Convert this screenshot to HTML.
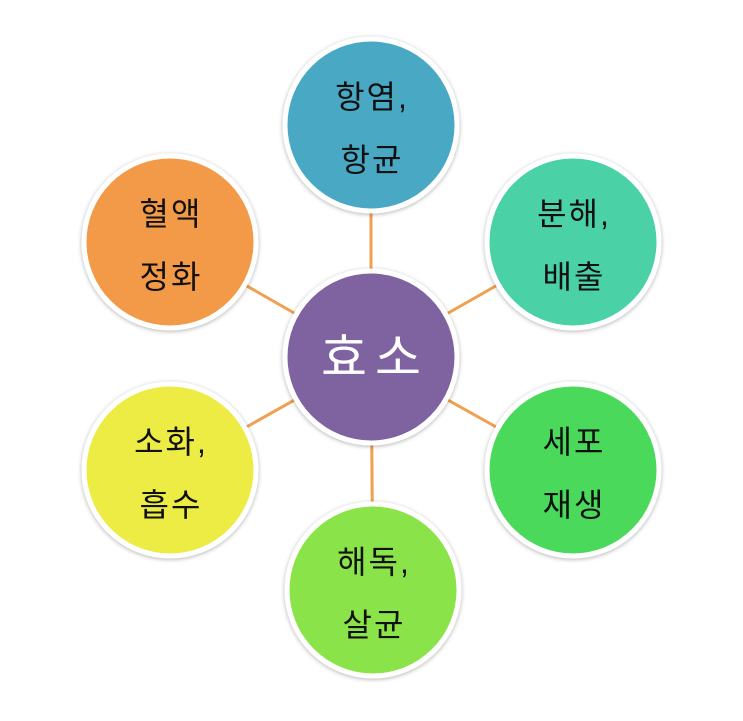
<!DOCTYPE html>
<html><head><meta charset="utf-8"><style>
html,body{margin:0;padding:0;background:#fff;width:743px;height:721px;overflow:hidden}
svg text{font-family:"Liberation Sans","Noto Sans CJK KR",sans-serif}
</style></head><body>
<svg width="743" height="721" viewBox="0 0 743 721" xmlns="http://www.w3.org/2000/svg">
<defs><filter id="s" x="-20%" y="-20%" width="140%" height="140%"><feDropShadow dx="0" dy="1" stdDeviation="2" flood-color="#000" flood-opacity="0.3"/></filter></defs>
<g stroke="#f0a050" stroke-width="3">
<line x1="371" y1="357" x2="371" y2="125"/>
<line x1="371" y1="357" x2="573" y2="242"/>
<line x1="371" y1="357" x2="573" y2="470"/>
<line x1="371" y1="357" x2="373" y2="590"/>
<line x1="371" y1="357" x2="170" y2="470"/>
<line x1="371" y1="357" x2="170" y2="242"/>
</g>
<g stroke="#fff" stroke-width="5" filter="url(#s)">
<circle cx="371" cy="125" r="86" fill="#4aa8c4"/>
<circle cx="573" cy="242" r="86" fill="#4cd1a6"/>
<circle cx="573" cy="470" r="86" fill="#4cd95c"/>
<circle cx="373" cy="590" r="86" fill="#8ae34a"/>
<circle cx="170" cy="470" r="86" fill="#ecec44"/>
<circle cx="170" cy="242" r="86" fill="#f39a4a"/>
<circle cx="371" cy="357" r="86" fill="#7f63a1"/>
</g>
<text x="375" y="375" font-size="50" fill="#fff" text-anchor="middle" letter-spacing="8">효소</text>
<g font-size="32" fill="#111" text-anchor="middle" letter-spacing="2">
<text x="372" y="108">항염,</text><text x="372" y="171">항균</text>
<text x="574" y="225">분해,</text><text x="574" y="288">배출</text>
<text x="574" y="453">세포</text><text x="574" y="516">재생</text>
<text x="374" y="573">해독,</text><text x="374" y="636">살균</text>
<text x="171" y="453">소화,</text><text x="171" y="516">흡수</text>
<text x="171" y="225">혈액</text><text x="171" y="288">정화</text>
</g>
</svg>
</body></html>
